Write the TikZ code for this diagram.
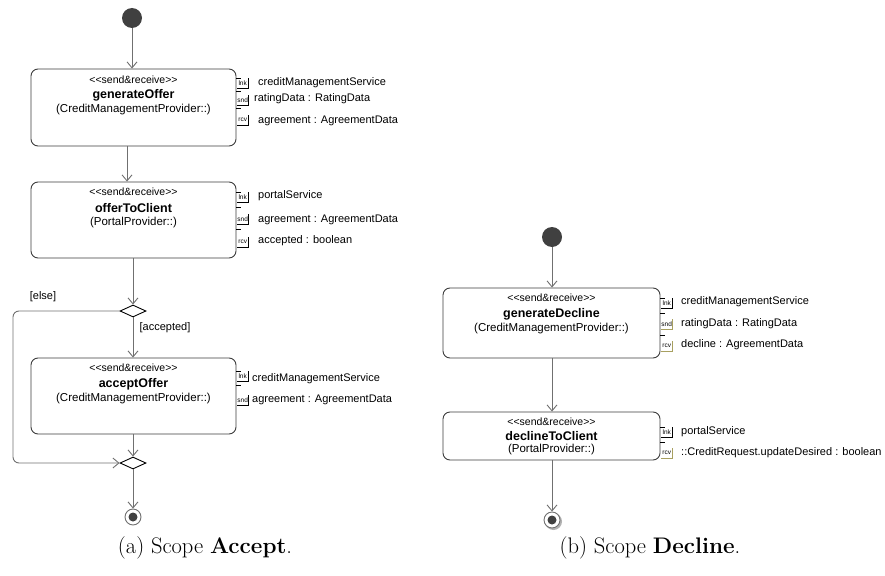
\documentclass[tikz,border=0pt]{standalone}
\usepackage{fontspec}
\newfontfamily\arial{Liberation Sans}
\usetikzlibrary{arrows.meta,shapes.geometric}
\definecolor{linegray}{HTML}{707070}
\definecolor{boxline}{HTML}{3C3C3C}
\definecolor{pinolive}{HTML}{A8A060}
\definecolor{initfill}{HTML}{404040}
\tikzset{
  actbox/.style={draw=boxline, line width=0.9pt, rounded corners=7pt, inner sep=0pt},
  stereo/.style={font=\arial\fontsize{10.5}{12}\selectfont, inner sep=0pt},
  aname/.style={font=\arial\bfseries\fontsize{12.5}{14}\selectfont, inner sep=0pt},
  prov/.style={font=\arial\fontsize{11.5}{13}\selectfont, inner sep=0pt},
  plabel/.style={font=\arial\fontsize{11}{13}\selectfont, inner sep=0pt, anchor=west},
  pinbox/.style={inner sep=0pt, minimum width=11pt, minimum height=10pt, anchor=north west, font=\arial\fontsize{6.5}{7}\selectfont},
  flow/.style={draw=linegray, line width=0.9pt, -{Straight Barb[length=6pt,width=10pt]}},
  initnode/.style={circle, fill=initfill, minimum size=20pt, inner sep=0pt},
  finalnode/.style={circle, draw=linegray, fill=white, line width=0.9pt, minimum size=16pt, inner sep=0pt,
    path picture={\fill[initfill] (path picture bounding box.center) circle (4.5pt);}},
  decision/.style={diamond, draw=black, line width=0.9pt, minimum width=26pt, minimum height=12pt, inner sep=0pt, fill=white},
  guard/.style={font=\arial\fontsize{11}{13}\selectfont, inner sep=0pt},
  captionstyle/.style={font=\fontsize{22.5}{26}\selectfont, inner sep=0pt},
}
% #1 name, #2 x of box edge, #3 tick y, #4 label-box top y, #5 text, #6 colour
\newcommand\umlpin[6]{%
  \draw[black, line width=0.8pt] (#2,#3) -- ++(5,0);
  \node[pinbox] (#1) at (#2+1,#4) {#5};
  \draw[#6, line width=0.9pt] (#1.south west) -- (#1.south east) -- (#1.north east);
}
\begin{document}
\begin{tikzpicture}[x=1pt,y=-1pt]
\useasboundingbox (0,0) rectangle (885,575);

% ---------------- (a) Accept ----------------
\node[initnode] (init1) at (132,18) {};

\node[actbox, minimum width=205pt, minimum height=77pt] (gen1) at (133.5,107.5) {};
\node[stereo] (gen1s) at (133.5,80) {<{}<send\&receive>{}>};
\node[aname] (gen1n) at (133.5,95) {generateOffer};
\node[prov] (gen1p) at (133.5,110) {(CreditManagementProvider::)};
\umlpin{g1a}{236}{78}{78}{lnk}{black}
\umlpin{g1b}{236}{91}{95}{snd}{black}
\umlpin{g1c}{236}{108}{115}{rcv}{black}
\node[plabel] (g1al) at (258,83) {creditManagementService};
\node[plabel] (g1bl) at (254,99) {ratingData : RatingData};
\node[plabel] (g1cl) at (258,121) {agreement : AgreementData};

\node[actbox, minimum width=205pt, minimum height=76pt] (off1) at (133.5,220) {};
\node[stereo] (off1s) at (133.5,192) {<{}<send\&receive>{}>};
\node[aname] (off1n) at (133.5,208) {offerToClient};
\node[prov] (off1p) at (133.5,223) {(PortalProvider::)};
\umlpin{o1a}{236}{192}{192}{lnk}{black}
\umlpin{o1b}{236}{207}{214}{snd}{black}
\umlpin{o1c}{236}{229}{237}{rcv}{black}
\node[plabel] (o1al) at (258,196) {portalService};
\node[plabel] (o1bl) at (258,220) {agreement : AgreementData};
\node[plabel] (o1cl) at (258,241) {accepted : boolean};

\node[decision] (dec1) at (133,311) {};
\node[guard] (else1) at (43,297) {[else]};
\node[guard] (acc1g) at (165,328) {[accepted]};

\node[actbox, minimum width=205pt, minimum height=76pt] (acc1) at (133.5,396) {};
\node[stereo] (acc1s) at (133.5,368) {<{}<send\&receive>{}>};
\node[aname] (acc1n) at (133.5,384) {acceptOffer};
\node[prov] (acc1p) at (133.5,399) {(CreditManagementProvider::)};
\umlpin{a1a}{236}{371}{371}{lnk}{black}
\umlpin{a1b}{236}{385}{395}{snd}{black}
\node[plabel] (a1al) at (252,379) {creditManagementService};
\node[plabel] (a1bl) at (252,400) {agreement : AgreementData};

\node[decision] (merge1) at (133,463) {};
\node[finalnode] (fin1) at (133,517) {};
\coordinate (elsec) at (13,400);

\draw[flow] (init1) -- (init1 |- gen1.north);
\draw[flow] ([xshift=-6.5pt]gen1.south) -- ([xshift=-6.5pt]off1.north);
\draw[flow] (off1.south -| dec1) -- (dec1.north);
\draw[flow] (dec1.south) -- (dec1 |- acc1.north);
\draw[flow] (acc1.south -| merge1) -- (merge1.north);
\draw[flow, rounded corners=6pt] (dec1.west) -| (elsec) |- (merge1.west);
\draw[flow] (merge1.south) -- (fin1.north);

\node[captionstyle] (capa) at (205,548) {(a) Scope \textbf{Accept}.};

% ---------------- (b) Decline ----------------
\node[initnode] (init2) at (552,237) {};

\node[actbox, minimum width=217pt, minimum height=70pt] (gd) at (551.5,323) {};
\node[stereo] (gds) at (551.5,298) {<{}<send\&receive>{}>};
\node[aname] (gdn) at (551.5,314) {generateDecline};
\node[prov] (gdp) at (551.5,329) {(CreditManagementProvider::)};
\umlpin{gda}{660}{298}{298}{lnk}{black}
\umlpin{gdb}{660}{313}{319}{snd}{pinolive}
\umlpin{gdc}{660}{335}{341}{rcv}{pinolive}
\node[plabel] (gdal) at (681,302) {creditManagementService};
\node[plabel] (gdbl) at (681,324) {ratingData : RatingData};
\node[plabel] (gdcl) at (681,345) {decline : AgreementData};

\node[actbox, minimum width=217pt, minimum height=48pt] (dc) at (551.5,436) {};
\node[stereo] (dcs) at (551.5,422) {<{}<send\&receive>{}>};
\node[aname] (dcn) at (551.5,436) {declineToClient};
\node[prov] (dcp) at (551.5,450) {(PortalProvider::)};
\umlpin{dca}{660}{427}{427}{lnk}{black}
\umlpin{dcb}{660}{442}{448}{rcv}{pinolive}
\node[plabel] (dcal) at (681,432) {portalService};
\node[plabel] (dcbl) at (681,453) {::CreditRequest.updateDesired : boolean};

\fill[black!30] (553.5,521.5) circle (8.5pt);
\node[finalnode] (fin2) at (552,520) {};

\draw[flow] (init2) -- (init2 |- gd.north);
\draw[flow] (gd.south -| init2) -- (dc.north -| init2);
\draw[flow] (dc.south -| fin2) -- (fin2.north);

\node[captionstyle] (capb) at (650,548) {(b) Scope \textbf{Decline}.};
\end{tikzpicture}
\end{document}
